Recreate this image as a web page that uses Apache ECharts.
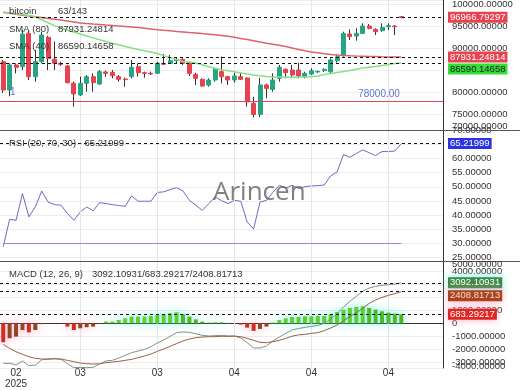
<!DOCTYPE html>
<html><head><meta charset="utf-8">
<script src="https://cdn.jsdelivr.net/npm/echarts@6/dist/echarts.min.js"></script>
<style>html,body{margin:0;padding:0;background:#fff}#c{width:520px;height:390px}</style>
</head><body><div id="c"></div>
<script>
// ---- data ----
const opens = [86890,80450,86140,85760,93340,83480,86890,92420,87430,86520,
 85910,81970,79320,81970,83480,81820,84550,84470,83480,82950,
 83480,85760,84390,84240,84240,86520,86520,87120,87420,86740,
 84020,82880,81590,82730,84620,83480,82730,83480,83180,77420,
 74900,81600,80600,83110,85150,85000,85000,83480,84090,84550,
 84920,84620,87120,88260,93180,92730,93330,95000,94240,93940,
 94850,95000,97120];
const closes = [80450,86140,85610,93150,83480,86890,92950,87650,86520,86290,
 82120,79550,81970,83480,82120,84620,84240,83710,82880,82800,
 85610,84390,84240,84090,86520,86290,87120,87420,86520,84240,
 83110,81360,82730,85380,83480,82730,83640,82880,77730,74900,
 81600,80830,82730,85610,84390,83860,83640,84240,84850,84700,
 85150,87270,88030,93330,92580,93330,95000,94470,93710,94700,
 95080,94850,96966.79297];
const lows = [79800,79000,84240,85000,82730,82350,86520,85000,85000,85910,
 81970,76670,79090,80080,80080,81590,83480,83110,82350,81210,
 83110,83480,83260,83860,84090,86140,86360,86520,86140,83640,
 81590,81210,81210,82350,81970,81590,82120,82730,76670,74200,
 74300,78560,80080,82350,83110,83110,83110,83110,83860,84390,
 84550,84240,86670,88030,91820,91670,93180,94240,92950,93710,
 94090,92950,96740];
const highs = [87270,86500,86520,94090,93900,89550,93700,92800,91500,86890,
 86140,82350,83480,83860,84240,85000,84850,85000,83860,83260,
 87270,86520,84620,84620,86890,88640,88410,87880,87650,86890,
 84390,83110,83110,85530,88030,83640,84390,84390,83300,78900,
 83200,81900,84240,86140,85380,86140,86670,84620,85380,84850,
 85380,87650,88560,93710,94240,94470,95610,95450,94470,95610,
 95610,95230,97270];
const sma80 = [98090,97890,97660,97450,97270,97090,96910,96730,96550,96340,
 96140,95930,95700,95550,95430,95320,95200,95110,95020,94910,
 94800,94640,94480,94320,94160,94020,93910,93770,93660,93520,
 93410,93270,93140,93000,92860,92680,92450,92180,91910,91640,
 91360,91090,90840,90610,90320,90000,89680,89360,89110,88910,
 88700,88520,88390,88300,88230,88180,88140,88090,88050,88000,
 87980,87955,87931.24814];
const sma40 = [98160,97980,97770,97590,97410,97050,96410,95750,95090,94550,
 94090,93640,93180,92730,92300,91860,91480,91090,90730,90360,
 90000,89640,89360,89090,88750,88270,87820,87360,86950,86770,
 86590,86180,85730,85320,85050,84820,84590,84340,84090,83890,
 83710,83550,83410,83390,83360,83360,83390,83410,83450,83660,
 83950,84180,84410,84640,84910,85180,85430,85640,85820,86020,
 86250,86500,86590.14658];
const rsi = [28.9,38.5,38.2,47.6,39.4,42.9,48.5,44.6,43.7,43.5,
 40.6,38.2,41.1,42.9,41.5,44.4,44.1,43.7,43.4,43.1,
 46.8,44.9,44.9,44.9,48.0,48.2,49.0,49.7,48.5,45.2,
 43.5,41.7,44.0,46.4,45.1,44.1,45.2,44.9,37.6,35.1,
 44.6,45.2,48.0,50.5,49.6,50.5,49.4,50.0,50.3,50.4,
 50.6,53.8,55.2,61.3,60.4,61.7,63.0,62.0,61.0,62.4,
 62.4,62.6,65.21999];
const macdHist = [-1450,-1140,-1015,-510,-690,-510,-60,-15,-10,-20,
 -250,-510,-380,-300,-250,-30,130,130,250,380,
 510,510,510,560,635,690,760,840,690,510,
 300,130,50,80,80,30,10,-100,-330,-580,
 -430,-250,50,250,380,484,484,534,534,560,
 560,662,865,1043,1171,1247,1298,1171,1043,916,
 814,738,683.29217];
const macdSignal = [-1607,-1912,-2167,-2370,-2548,-2676,-2726,-2726,-2701,-2726,
 -2828,-2930,-3032,-3083,-3108,-3083,-3006,-2955,-2904,-2828,
 -2752,-2625,-2497,-2345,-2141,-1963,-1759,-1556,-1352,-1199,
 -1098,-1047,-1021,-1021,-996,-996,-980,-1021,-1148,-1300,
 -1454,-1480,-1400,-1300,-1150,-984,-884,-843,-767,-717,
 -560,-360,-131,200,505,811,1141,1523,1778,1982,
 2134,2261,2408.81713];
const macdLine = [-3057,-3052,-3182,-2880,-3238,-3186,-2786,-2741,-2711,-2746,
 -3078,-3390,-3370,-3383,-3358,-3113,-2876,-2825,-2654,-2448,
 -2242,-2115,-1987,-1785,-1506,-1273,-999,-716,-662,-689,
 -798,-917,-971,-941,-916,-966,-970,-1121,-1478,-1880,
 -1884,-1730,-1350,-1050,-770,-500,-400,-309,-233,-157,
 0,302,734,1243,1676,2058,2439,2694,2821,2898,
 2948,2999,3092.10931];
const xTickIndex = [2,12,24,36,48,60];
const xTickLabels = ['02\n2025','03','03','04','04','04'];
const vGridIndex = [12,24,36,48,60];
const supportLevel = 78000;
const rsiLower = 30;
const slotCount = 69;
const symbolName = 'bitcoin';
const countLabel = '63/143';

// ---- chart ----
const FONT = "'Liberation Sans', Arial, sans-serif";
const GREEN = '#27a583', RED = '#e8414f';
const fmt5 = v => (v === 0 ? '0' : v.toFixed(5));
const last = a => a[a.length - 1];
const n = closes.length;
const cats = Array.from({length: slotCount}, (_, i) => String(i));
const wickData = opens.map((o, i) => [o, closes[i], lows[i], highs[i]]);
const bodyData = opens.map((o, i) => [o, closes[i], Math.min(o, closes[i]), Math.max(o, closes[i])]);
const dash = {type: [3, 3], color: '#111', width: 1};
const vgrid = {type: 'solid', color: '#e6e6e6', width: 1};
const vLines = vGridIndex.map(i => ({xAxis: i, lineStyle: vgrid, label: {show: false}}));
function badge(value, bg, fg, glow, dy) {
  return {show: true, position: 'end', distance: 5, formatter: fmt5(value),
    backgroundColor: bg, color: fg, padding: [1, 2, 0, 2], lineHeight: 10,
    fontSize: 9.5, fontFamily: FONT, offset: [0, dy || 0],
    shadowColor: glow || 'rgba(0,0,0,0)', shadowBlur: glow ? 8 : 0};
}
const yLabel = {fontSize: 9.5, color: '#333', margin: 9, fontFamily: FONT, formatter: fmt5,
  showMinLabel: false, showMaxLabel: false};

const chart = echarts.init(document.getElementById('c'), null, {renderer: 'canvas'});
const txt = (x, y, text, extra) => Object.assign({type: 'text', x, y, z: 50,
  style: Object.assign({text, fill: '#333', font: '9.5px ' + FONT, textAlign: 'left', textVerticalAlign: 'middle'}, extra || {})});

chart.setOption({
  animation: false,
  backgroundColor: '#fff',
  grid: [
    {left: 0, right: 77, top: 0, height: 130, outerBoundsMode: 'none'},
    {left: 0, right: 77, top: 130, height: 131, outerBoundsMode: 'none'},
    {left: 0, right: 77, top: 261, height: 107, outerBoundsMode: 'none'}
  ],
  xAxis: [0, 1, 2].map(g => ({
    gridIndex: g, type: 'category', data: cats, boundaryGap: true,
    axisLine: {show: g === 2, lineStyle: {color: '#333'}},
    axisTick: {show: false}, splitLine: {show: false},
    axisLabel: {show: g === 2, interval: (i) => xTickIndex.includes(i),
      formatter: (v, i) => xTickLabels[xTickIndex.indexOf(i)] || '',
      fontSize: 10, lineHeight: 11, color: '#333', margin: 0, fontFamily: FONT}
  })),
  yAxis: [
    {gridIndex: 0, type: 'value', position: 'right', min: 71364, max: 100909, splitNumber: 6,
      axisLine: {show: true, lineStyle: {color: '#333'}}, axisTick: {show: false},
      axisLabel: yLabel, splitLine: {lineStyle: {color: '#ededed'}}},
    {gridIndex: 1, type: 'value', position: 'right', min: 23.84, max: 70, splitNumber: 9,
      axisLine: {show: true, lineStyle: {color: '#333'}}, axisTick: {show: false},
      axisLabel: Object.assign({}, yLabel, {showMaxLabel: true}), splitLine: {lineStyle: {color: '#ededed'}}},
    {gridIndex: 2, type: 'value', position: 'right', min: -3412, max: 4756, splitNumber: 8,
      axisLine: {show: true, lineStyle: {color: '#333'}}, axisTick: {show: false},
      axisLabel: yLabel, splitLine: {lineStyle: {color: '#ededed'}}}
  ],
  series: [
    {name: 'wick', type: 'candlestick', xAxisIndex: 0, yAxisIndex: 0, data: wickData, barWidth: 1, z: 2, silent: true,
      itemStyle: {color: '#333', color0: '#333', borderColor: '#333', borderColor0: '#333', borderColorDoji: '#333', borderWidth: 1},
      markLine: {silent: true, symbol: ['none', 'none'], precision: 5, z: 1, data: vLines}},
    {name: 'body', type: 'candlestick', xAxisIndex: 0, yAxisIndex: 0, data: bodyData, barWidth: '70%', z: 3, silent: true,
      itemStyle: {color: GREEN, color0: RED, borderColor: GREEN, borderColor0: RED, borderColorDoji: RED, borderWidth: 1},
      markLine: {silent: true, symbol: ['none', 'none'], precision: 5, data: [
        {yAxis: supportLevel, lineStyle: {type: 'solid', color: '#d9485a', width: 1}, label: {show: false}},
        {yAxis: last(closes), lineStyle: dash, label: badge(last(closes), RED, '#fff')},
        {yAxis: last(sma80), lineStyle: dash, label: badge(last(sma80), RED, '#fff', null, 0)},
        {yAxis: last(sma40), lineStyle: dash, label: badge(last(sma40), '#33dd3a', '#1a1a1a', null, 6)}
      ]},
      markPoint: {silent: true, data: [{coord: [59, supportLevel], symbolSize: 1, itemStyle: {color: 'rgba(0,0,0,0)'},
        label: {show: true, position: 'inside', offset: [-3, -6], formatter: supportLevel.toFixed(2),
          color: '#5b74d2', fontSize: 10, fontFamily: FONT}}]}},
    {name: 'SMA80', type: 'line', xAxisIndex: 0, yAxisIndex: 0, data: sma80, showSymbol: false, z: 4, silent: true,
      lineStyle: {color: '#e0606e', width: 1.5}},
    {name: 'SMA40', type: 'line', xAxisIndex: 0, yAxisIndex: 0, data: sma40, showSymbol: false, z: 4, silent: true,
      lineStyle: {color: '#86e086', width: 1.5}},
    {name: 'RSI', type: 'line', xAxisIndex: 1, yAxisIndex: 1, data: rsi, showSymbol: false, z: 4, silent: true,
      lineStyle: {color: '#6b6bc4', width: 1},
      markLine: {silent: true, symbol: ['none', 'none'], precision: 5, data: vLines.concat([
        {yAxis: last(rsi), lineStyle: dash, label: badge(last(rsi), '#2a35e0', '#fff')},
        [{coord: [0, rsiLower], lineStyle: {type: 'solid', color: '#8f86dd', width: 1}, label: {show: false}},
         {coord: [n - 1, rsiLower]}]
      ])}},
    {name: 'histPos', type: 'bar', xAxisIndex: 2, yAxisIndex: 2, barWidth: '62%', z: 3, silent: true,
      data: macdHist.map(v => (v >= 0 ? v : '-')),
      itemStyle: {color: p => { const i = p.dataIndex, prev = i > 0 ? macdHist[i - 1] : macdHist[i];
        return macdHist[i] >= prev ? '#5cd11a' : '#4cb816'; },
        shadowColor: 'rgba(60,235,225,0.85)', shadowBlur: 10},
      markLine: {silent: true, symbol: ['none', 'none'], z: 1, data: vLines}},
    {name: 'histNeg', type: 'bar', xAxisIndex: 2, yAxisIndex: 2, barWidth: '62%', barGap: '-100%', z: 3, silent: true,
      data: macdHist.map(v => (v < 0 ? v : '-')),
      itemStyle: {color: p => { const i = p.dataIndex, prev = i > 0 ? macdHist[i - 1] : macdHist[i];
        return macdHist[i] <= prev ? '#cf2a1c' : '#8d4422'; },
        shadowColor: 'rgba(255,110,150,0.6)', shadowBlur: 10}},
    {name: 'MACD', type: 'line', xAxisIndex: 2, yAxisIndex: 2, data: macdLine, showSymbol: false, z: 4, silent: true,
      lineStyle: {color: '#7d9484', width: 1},
      markLine: {silent: true, symbol: ['none', 'none'], precision: 5, data: [
        {yAxis: last(macdLine), lineStyle: dash, label: badge(last(macdLine), '#3b8a45', '#fff', 'rgba(90,240,220,0.8)')},
        {yAxis: last(macdSignal), lineStyle: dash, label: badge(last(macdSignal), '#a8441f', '#ffd7cf', 'rgba(255,150,190,0.8)', 4)},
        {yAxis: last(macdHist), lineStyle: dash, label: badge(last(macdHist), '#e0261f', '#fff', 'rgba(255,150,190,0.8)')}
      ]}},
    {name: 'Signal', type: 'line', xAxisIndex: 2, yAxisIndex: 2, data: macdSignal, showSymbol: false, z: 4, silent: true,
      lineStyle: {color: '#9c6048', width: 1}}
  ],
  graphic: [
    {type: 'line', z: 40, shape: {x1: 0, y1: 130.5, x2: 520, y2: 130.5}, style: {stroke: '#555', lineWidth: 1}},
    {type: 'line', z: 40, shape: {x1: 0, y1: 261.5, x2: 520, y2: 261.5}, style: {stroke: '#555', lineWidth: 1}},
    txt(213, 193, 'Arincen', {font: '26px "Open Sans", sans-serif', fill: 'rgba(85,85,85,0.75)'}),
    txt(9, 11, symbolName), txt(58, 11, countLabel),
    txt(9, 29, 'SMA (80)'), txt(58, 29, fmt5(last(sma80))),
    txt(9, 46, 'SMA (40)'), txt(58, 46, fmt5(last(sma40))),
    txt(9, 143.5, 'RSI (20, 70, 30) - ' + fmt5(last(rsi))),
    txt(9, 274, 'MACD (12, 26, 9)'),
    txt(92, 274, fmt5(last(macdLine)) + '/' + fmt5(last(macdHist)) + '/' + fmt5(last(macdSignal))),
    txt(10, 92.5, '1', {fill: '#5b74d2', font: '10px ' + FONT}),
    txt(452, 126.5, '70000.00000', {z: 1}),
    txt(452, 264.5, '5000.00000'),
    txt(452, 366, '-4000.00000')
  ]
});
</script></body></html>
